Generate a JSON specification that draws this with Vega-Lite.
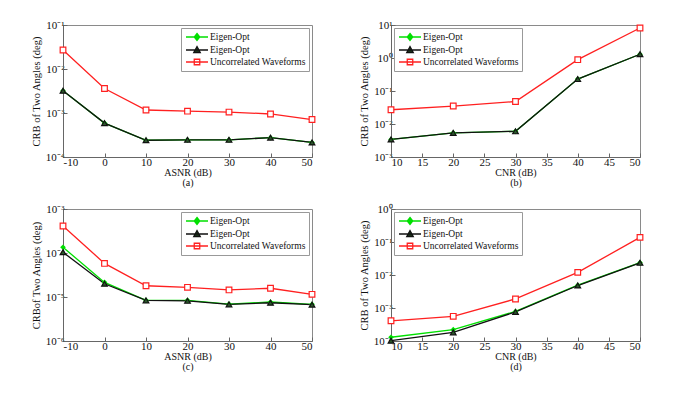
{
  "$schema": "https://vega.github.io/schema/vega-lite/v6.json",
  "padding": {"left": 30, "top": 18, "right": 5, "bottom": 5},
  "background": "white",
  "config": {
    "font": "Liberation Serif, Times New Roman, serif",
    "view": {"stroke": "#8a8a8a", "strokeWidth": 1},
    "axis": {
      "labelFont": "Liberation Serif, Times New Roman, serif", "labelFontSize": 11, "labelColor": "#111",
      "titleFont": "Liberation Serif, Times New Roman, serif", "titleFontSize": 10.5, "titleFontWeight": "normal", "titleColor": "#111",
      "domainColor": "#666", "tickColor": "#666", "tickSize": -4, "grid": false, "labelPadding": 3
    },
    "axisX": {"titleFontSize": 10, "titleLineHeight": 10.5, "titlePadding": 0},
    "legend": {
      "labelFont": "Liberation Serif, Times New Roman, serif", "labelFontSize": 9.5, "labelColor": "#111",
      "fillColor": "white", "strokeColor": "#999", "padding": 3, "offset": 3,
      "symbolSize": 100, "symbolOffset": 7, "labelOffset": 7, "rowPadding": -1, "title": null
    }
  },
  "datasets": {
    "a": [
      {"x": -10, "y": 0.027, "s": "R"}, {"x": 0, "y": 0.0036, "s": "R"}, {"x": 10, "y": 0.00117, "s": "R"}, {"x": 20, "y": 0.0011, "s": "R"}, {"x": 30, "y": 0.00105, "s": "R"}, {"x": 40, "y": 0.00095, "s": "R"}, {"x": 50, "y": 0.00071, "s": "R"},
      {"x": -10, "y": 0.0032, "s": "G"}, {"x": 0, "y": 0.00059, "s": "G"}, {"x": 10, "y": 0.00024, "s": "G"}, {"x": 20, "y": 0.000246, "s": "G"}, {"x": 30, "y": 0.000246, "s": "G"}, {"x": 40, "y": 0.000275, "s": "G"}, {"x": 50, "y": 0.000214, "s": "G"},
      {"x": -10, "y": 0.0032, "s": "B"}, {"x": 0, "y": 0.00059, "s": "B"}, {"x": 10, "y": 0.00024, "s": "B"}, {"x": 20, "y": 0.000246, "s": "B"}, {"x": 30, "y": 0.000246, "s": "B"}, {"x": 40, "y": 0.000275, "s": "B"}, {"x": 50, "y": 0.000214, "s": "B"}
    ],
    "b": [
      {"x": 10, "y": 0.027, "s": "R"}, {"x": 20, "y": 0.035, "s": "R"}, {"x": 30, "y": 0.048, "s": "R"}, {"x": 40, "y": 0.89, "s": "R"}, {"x": 50, "y": 8.1, "s": "R"},
      {"x": 10, "y": 0.0034, "s": "G"}, {"x": 20, "y": 0.0054, "s": "G"}, {"x": 30, "y": 0.006, "s": "G"}, {"x": 40, "y": 0.23, "s": "G"}, {"x": 50, "y": 1.3, "s": "G"},
      {"x": 10, "y": 0.0034, "s": "B"}, {"x": 20, "y": 0.0054, "s": "B"}, {"x": 30, "y": 0.006, "s": "B"}, {"x": 40, "y": 0.23, "s": "B"}, {"x": 50, "y": 1.3, "s": "B"}
    ],
    "c": [
      {"x": -10, "y": 0.00041, "s": "R"}, {"x": 0, "y": 0.000058, "s": "R"}, {"x": 10, "y": 0.000018, "s": "R"}, {"x": 20, "y": 0.0000166, "s": "R"}, {"x": 30, "y": 0.0000145, "s": "R"}, {"x": 40, "y": 0.0000158, "s": "R"}, {"x": 50, "y": 0.0000115, "s": "R"},
      {"x": -10, "y": 0.000135, "s": "G"}, {"x": 0, "y": 0.0000215, "s": "G"}, {"x": 10, "y": 0.0000084, "s": "G"}, {"x": 20, "y": 0.0000084, "s": "G"}, {"x": 30, "y": 0.0000069, "s": "G"}, {"x": 40, "y": 0.0000077, "s": "G"}, {"x": 50, "y": 0.0000068, "s": "G"},
      {"x": -10, "y": 0.000104, "s": "B"}, {"x": 0, "y": 0.00002, "s": "B"}, {"x": 10, "y": 0.0000084, "s": "B"}, {"x": 20, "y": 0.0000082, "s": "B"}, {"x": 30, "y": 0.0000068, "s": "B"}, {"x": 40, "y": 0.0000074, "s": "B"}, {"x": 50, "y": 0.0000067, "s": "B"}
    ],
    "d": [
      {"x": 10, "y": 0.00041, "s": "R"}, {"x": 20, "y": 0.00056, "s": "R"}, {"x": 30, "y": 0.00188, "s": "R"}, {"x": 40, "y": 0.012, "s": "R"}, {"x": 50, "y": 0.138, "s": "R"},
      {"x": 10, "y": 0.00013, "s": "G"}, {"x": 20, "y": 0.00022, "s": "G"}, {"x": 30, "y": 0.00079, "s": "G"}, {"x": 40, "y": 0.0049, "s": "G"}, {"x": 50, "y": 0.0236, "s": "G"},
      {"x": 10, "y": 0.000102, "s": "B"}, {"x": 20, "y": 0.000183, "s": "B"}, {"x": 30, "y": 0.00076, "s": "B"}, {"x": 40, "y": 0.0048, "s": "B"}, {"x": 50, "y": 0.0234, "s": "B"}
    ]
  },
  "columns": 2,
  "spacing": {"row": 52, "column": 79},
  "bounds": "flush",
  "resolve": {"scale": {"color": "independent", "x": "independent", "y": "independent"}, "legend": {"color": "independent"}},
  "concat": [
    {
      "width": 249, "height": 132,
      "data": {"name": "a"},
      "encoding": {
        "x": {"field": "x", "type": "quantitative", "scale": {"domain": [-10, 50], "nice": false}, "axis": {"values": [-10, 0, 10, 20, 30, 40, 50], "labelExpr": "replace(datum.label, '−', '-')", "title": ["ASNR (dB)", "(a)"]}},
        "y": {"field": "y", "type": "quantitative", "scale": {"type": "log", "domain": [0.0001, 0.1], "nice": false}, "axis": {"values": [0.0001, 0.001, 0.01, 0.1], "title": "CRB of Two Angles (deg)", "labelExpr": "'10' + ['⁻⁶','⁻⁵','⁻⁴','⁻³','⁻²','⁻¹','⁰','¹'][round(log(datum.value)/LN10)+6]"}}
      },
      "layer": [
        {"mark": {"type": "line", "strokeWidth": 1.3},
         "encoding": {
           "color": {"field": "s", "type": "nominal", "scale": {"domain": ["G", "B", "R"], "range": ["#00e000", "#111111", "#ff2020"]},
             "legend": {"orient": "top-right", "labelExpr": "datum.value == 'R' ? 'Uncorrelated Waveforms' : 'Eigen-Opt'",
               "encode": {"symbols": {"update": {
                 "shape": {"signal": "datum.value == 'G' ? 'M-2.2,0H2.2M0,-0.7L0.55,0L0,0.7L-0.55,0Z' : datum.value == 'B' ? 'M-2.2,0H2.2M0,-0.7L0.65,0.5H-0.65Z' : 'M-2.2,0H2.2M-0.55,-0.55H0.55V0.55H-0.55Z'"},
                 "fill": {"signal": "datum.value == 'G' ? '#00e000' : datum.value == 'B' ? '#1d3d1d' : 'white'"},
                 "fillOpacity": {"value": 1},
                 "strokeWidth": {"value": 1.3}}}}}},
           "order": {"field": "x"}
         }},
        {"transform": [{"filter": "datum.s == 'G'"}], "mark": {"type": "point", "shape": "diamond", "filled": true, "color": "#00e000", "size": 32, "opacity": 1}},
        {"transform": [{"filter": "datum.s == 'B'"}], "mark": {"type": "point", "shape": "triangle-up", "fill": "#2a5a2a", "stroke": "#111111", "strokeWidth": 1.2, "size": 32, "opacity": 1}},
        {"transform": [{"filter": "datum.s == 'R'"}], "mark": {"type": "point", "shape": "square", "fill": "white", "stroke": "#ff2020", "strokeWidth": 1.2, "size": 32, "opacity": 1}}
      ]
    },
    {
      "width": 249, "height": 132,
      "data": {"name": "b"},
      "encoding": {
        "x": {"field": "x", "type": "quantitative", "scale": {"domain": [10, 50], "nice": false}, "axis": {"values": [10, 15, 20, 25, 30, 35, 40, 45, 50], "title": ["CNR (dB)", "(b)"]}},
        "y": {"field": "y", "type": "quantitative", "scale": {"type": "log", "domain": [0.001, 10], "nice": false}, "axis": {"values": [0.001, 0.01, 0.1, 1, 10], "title": "CRB of Two Angles (deg)", "labelExpr": "'10' + ['⁻⁶','⁻⁵','⁻⁴','⁻³','⁻²','⁻¹','⁰','¹'][round(log(datum.value)/LN10)+6]"}}
      },
      "layer": [
        {"mark": {"type": "line", "strokeWidth": 1.3},
         "encoding": {
           "color": {"field": "s", "type": "nominal", "scale": {"domain": ["G", "B", "R"], "range": ["#00e000", "#111111", "#ff2020"]},
             "legend": {"orient": "top-left", "labelExpr": "datum.value == 'R' ? 'Uncorrelated Waveforms' : 'Eigen-Opt'",
               "encode": {"symbols": {"update": {
                 "shape": {"signal": "datum.value == 'G' ? 'M-2.2,0H2.2M0,-0.7L0.55,0L0,0.7L-0.55,0Z' : datum.value == 'B' ? 'M-2.2,0H2.2M0,-0.7L0.65,0.5H-0.65Z' : 'M-2.2,0H2.2M-0.55,-0.55H0.55V0.55H-0.55Z'"},
                 "fill": {"signal": "datum.value == 'G' ? '#00e000' : datum.value == 'B' ? '#1d3d1d' : 'white'"},
                 "fillOpacity": {"value": 1},
                 "strokeWidth": {"value": 1.3}}}}}},
           "order": {"field": "x"}
         }},
        {"transform": [{"filter": "datum.s == 'G'"}], "mark": {"type": "point", "shape": "diamond", "filled": true, "color": "#00e000", "size": 32, "opacity": 1}},
        {"transform": [{"filter": "datum.s == 'B'"}], "mark": {"type": "point", "shape": "triangle-up", "fill": "#2a5a2a", "stroke": "#111111", "strokeWidth": 1.2, "size": 32, "opacity": 1}},
        {"transform": [{"filter": "datum.s == 'R'"}], "mark": {"type": "point", "shape": "square", "fill": "white", "stroke": "#ff2020", "strokeWidth": 1.2, "size": 32, "opacity": 1}}
      ]
    },
    {
      "width": 249, "height": 132,
      "data": {"name": "c"},
      "encoding": {
        "x": {"field": "x", "type": "quantitative", "scale": {"domain": [-10, 50], "nice": false}, "axis": {"values": [-10, 0, 10, 20, 30, 40, 50], "labelExpr": "replace(datum.label, '−', '-')", "title": ["ASNR (dB)", "(c)"]}},
        "y": {"field": "y", "type": "quantitative", "scale": {"type": "log", "domain": [0.000001, 0.001], "nice": false}, "axis": {"values": [0.000001, 0.00001, 0.0001, 0.001], "title": "CRBof Two Angles (deg)", "labelExpr": "'10' + ['⁻⁶','⁻⁵','⁻⁴','⁻³','⁻²','⁻¹','⁰','¹'][round(log(datum.value)/LN10)+6]"}}
      },
      "layer": [
        {"mark": {"type": "line", "strokeWidth": 1.3},
         "encoding": {
           "color": {"field": "s", "type": "nominal", "scale": {"domain": ["G", "B", "R"], "range": ["#00e000", "#111111", "#ff2020"]},
             "legend": {"orient": "top-right", "labelExpr": "datum.value == 'R' ? 'Uncorrelated Waveforms' : 'Eigen-Opt'",
               "encode": {"symbols": {"update": {
                 "shape": {"signal": "datum.value == 'G' ? 'M-2.2,0H2.2M0,-0.7L0.55,0L0,0.7L-0.55,0Z' : datum.value == 'B' ? 'M-2.2,0H2.2M0,-0.7L0.65,0.5H-0.65Z' : 'M-2.2,0H2.2M-0.55,-0.55H0.55V0.55H-0.55Z'"},
                 "fill": {"signal": "datum.value == 'G' ? '#00e000' : datum.value == 'B' ? '#1d3d1d' : 'white'"},
                 "fillOpacity": {"value": 1},
                 "strokeWidth": {"value": 1.3}}}}}},
           "order": {"field": "x"}
         }},
        {"transform": [{"filter": "datum.s == 'G'"}], "mark": {"type": "point", "shape": "diamond", "filled": true, "color": "#00e000", "size": 32, "opacity": 1}},
        {"transform": [{"filter": "datum.s == 'B'"}], "mark": {"type": "point", "shape": "triangle-up", "fill": "#2a5a2a", "stroke": "#111111", "strokeWidth": 1.2, "size": 32, "opacity": 1}},
        {"transform": [{"filter": "datum.s == 'R'"}], "mark": {"type": "point", "shape": "square", "fill": "white", "stroke": "#ff2020", "strokeWidth": 1.2, "size": 32, "opacity": 1}}
      ]
    },
    {
      "width": 249, "height": 132,
      "data": {"name": "d"},
      "encoding": {
        "x": {"field": "x", "type": "quantitative", "scale": {"domain": [10, 50], "nice": false}, "axis": {"values": [10, 15, 20, 25, 30, 35, 40, 45, 50], "title": ["CNR (dB)", "(d)"]}},
        "y": {"field": "y", "type": "quantitative", "scale": {"type": "log", "domain": [0.0001, 1], "nice": false}, "axis": {"values": [0.0001, 0.001, 0.01, 0.1, 1], "title": "CRB of Two Angles (deg)", "labelExpr": "'10' + ['⁻⁶','⁻⁵','⁻⁴','⁻³','⁻²','⁻¹','⁰','¹'][round(log(datum.value)/LN10)+6]"}}
      },
      "layer": [
        {"mark": {"type": "line", "strokeWidth": 1.3},
         "encoding": {
           "color": {"field": "s", "type": "nominal", "scale": {"domain": ["G", "B", "R"], "range": ["#00e000", "#111111", "#ff2020"]},
             "legend": {"orient": "top-left", "labelExpr": "datum.value == 'R' ? 'Uncorrelated Waveforms' : 'Eigen-Opt'",
               "encode": {"symbols": {"update": {
                 "shape": {"signal": "datum.value == 'G' ? 'M-2.2,0H2.2M0,-0.7L0.55,0L0,0.7L-0.55,0Z' : datum.value == 'B' ? 'M-2.2,0H2.2M0,-0.7L0.65,0.5H-0.65Z' : 'M-2.2,0H2.2M-0.55,-0.55H0.55V0.55H-0.55Z'"},
                 "fill": {"signal": "datum.value == 'G' ? '#00e000' : datum.value == 'B' ? '#1d3d1d' : 'white'"},
                 "fillOpacity": {"value": 1},
                 "strokeWidth": {"value": 1.3}}}}}},
           "order": {"field": "x"}
         }},
        {"transform": [{"filter": "datum.s == 'G'"}], "mark": {"type": "point", "shape": "diamond", "filled": true, "color": "#00e000", "size": 32, "opacity": 1}},
        {"transform": [{"filter": "datum.s == 'B'"}], "mark": {"type": "point", "shape": "triangle-up", "fill": "#2a5a2a", "stroke": "#111111", "strokeWidth": 1.2, "size": 32, "opacity": 1}},
        {"transform": [{"filter": "datum.s == 'R'"}], "mark": {"type": "point", "shape": "square", "fill": "white", "stroke": "#ff2020", "strokeWidth": 1.2, "size": 32, "opacity": 1}}
      ]
    }
  ]
}
